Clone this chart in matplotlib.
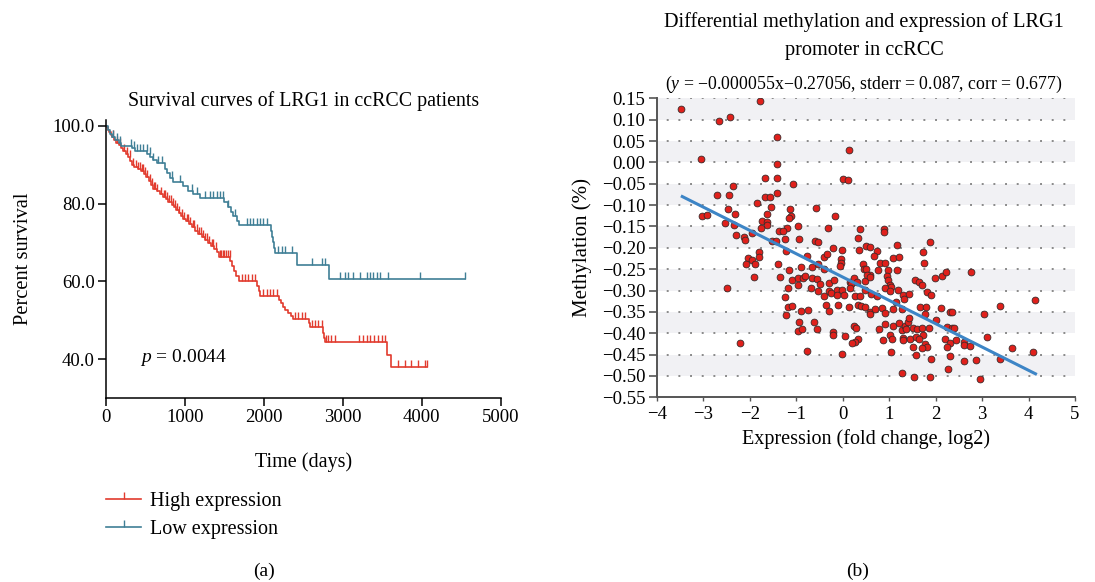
import numpy as np
import matplotlib
matplotlib.use("Agg")
from matplotlib import pyplot as plt
from matplotlib.lines import Line2D

plt.rcParams['font.family'] = ['Liberation Serif', 'DejaVu Serif']
plt.rcParams['mathtext.fontset'] = 'custom'
plt.rcParams['mathtext.rm'] = 'Liberation Serif'
plt.rcParams['mathtext.it'] = 'Liberation Serif:italic'

# ---- survival data (a) ----
high_t = [0, 10, 25, 40, 60, 80, 100, 130, 160, 190, 220, 250, 280, 310, 330, 360, 400, 440, 480,
          510, 540, 570, 600, 640, 680, 720, 760, 790, 830, 860, 890, 920, 950, 980, 1010, 1050,
          1090, 1130, 1170, 1210, 1250, 1290, 1330, 1370, 1400, 1430, 1575, 1600, 1625, 1650, 1680,
          1915, 1935, 1955, 2190, 2215, 2240, 2265, 2300, 2340, 2375, 2570, 2585, 2750, 2765, 2778,
          3556, 3612, 4072]
high_s = [100, 99.6, 99.0, 98.4, 97.7, 97.0, 96.4, 95.7, 95.0, 94.3, 93.6, 92.8, 92.1, 91.0, 90.0,
          89.4, 88.8, 88.3, 87.6, 86.8, 85.8, 84.9, 83.8, 83.2, 82.5, 81.8, 81.1, 80.4, 79.7, 79.0,
          78.3, 77.6, 76.9, 76.1, 75.5, 74.7, 73.9, 73.0, 72.2, 71.4, 70.6, 69.9, 69.1, 68.3, 67.5,
          66.3, 65.2, 64.0, 62.6, 61.3, 60.2, 58.8, 57.5, 56.2, 55.3, 54.4, 53.4, 52.6, 51.8, 51.0,
          50.4, 49.2, 48.3, 46.8, 45.4, 44.3, 41.0, 37.9, 37.9]
high_cens = [95, 140, 180, 230, 270, 300, 340, 380, 410, 430, 455, 470, 500, 520, 555, 580, 610,
             625, 650, 700, 730, 745, 770, 800, 820, 850, 875, 900, 930, 960, 990, 1020, 1040, 1070,
             1100, 1120, 1150, 1180, 1200, 1230, 1260, 1280, 1310, 1340, 1360, 1390, 1440, 1460,
             1480, 1500, 1520, 1545, 1565, 1718, 1760, 1803, 1845, 1887, 1993, 2035, 2078, 2120,
             2162, 2394, 2436, 2479, 2521, 2606, 2648, 2690, 2732, 2790, 2810, 2850, 2900, 3200,
             3250, 3300, 3350, 3400, 3450, 3500, 3535, 3700, 3790, 3860, 3950, 4040, 4072]

low_t = [0, 20, 50, 80, 120, 160, 190, 330, 370, 520, 560, 600, 650, 747, 768, 811, 853, 980, 1043,
         1098, 1191, 1495, 1550, 1584, 1613, 1655, 1689, 2086, 2099, 2111, 2128, 2145, 2416, 2829,
         4548]
low_s = [100, 99.0, 98.0, 97.2, 96.4, 95.6, 94.9, 94.2, 93.6, 92.8, 92.0, 91.3, 90.5, 89.0, 87.9,
         86.7, 85.6, 84.4, 83.3, 82.4, 81.5, 80.3, 79.1, 77.9, 76.8, 75.6, 74.5, 73.0, 71.5, 70.0,
         68.5, 67.2, 64.1, 60.6, 60.6]
low_cens = [93, 135, 177, 313, 355, 389, 431, 473, 515, 557, 600, 663, 705, 832, 938, 1085, 1149,
            1254, 1318, 1360, 1402, 1444, 1487, 1550, 1634, 1782, 1824, 1867, 1909, 1951, 1993,
            2035, 2183, 2226, 2268, 2352, 2606, 2732, 2774, 2965, 3028, 3070, 3133, 3218, 3302,
            3345, 3387, 3429, 3471, 3577, 3978, 4548]

# ---- methylation vs expression (b) ----
meth_x = [-3.48, -2.67, -2.43, -1.77, -1.42, -3.05, -1.42, 0.14, -1.68, -1.42, 0.00, 0.11, -1.06,
          -2.35, -2.71, -2.44, -1.42, -1.67, -1.57, -1.85, -1.55, -1.14, -0.58, -2.46, -3.02, -2.92,
          -2.32, -1.63, -1.12, -0.17, -1.16, -1.74, -1.62, -2.54, -1.62, -2.34, -0.96, -1.76, -0.31,
          0.37, 0.88, 0.88, -1.19, -1.37, -1.28, -2.29, -2.12, -1.96, -2.11, -0.94, -1.53, -1.43,
          -1.24, -0.59, -0.52, 0.33, 1.87, 0.50, 0.60, 1.16, -1.80, -1.80, -1.22, -0.21, -0.01,
          0.35, 0.75, 1.72, -0.76, -0.39, -0.33, 0.68, 1.08, 1.22, -2.03, -1.96, -2.07, -1.89,
          -1.38, -0.04, -0.04, -0.06, -0.52, 0.44, 0.81, 0.92, 1.75, 2.14, 2.23, 2.76, -1.91,
          -1.35, -1.15, -0.89, -0.65, -0.40, 0.46, 0.50, 0.58, 0.77, 0.97, 1.16, -1.08, -0.95,
          -0.85, -0.81, -0.66, -0.55, -0.30, -0.18, -0.97, -0.49, -1.18, -0.68, -0.54, -0.30,
          -0.11, -0.01, 0.16, 0.19, 0.25, 0.31, 0.48, 0.53, 0.60, 0.96, 0.98, 1.02, 1.05, 1.55,
          1.64, 1.70, 1.98, -2.49, -1.24, -0.40, -0.26, -0.11, 0.03, 0.15, 0.27, 0.38, 0.49, 0.62,
          0.73, 0.92, 1.01, 1.20, 1.31, 1.42, 1.81, 1.91, 1.33, 1.15, -1.18, -1.08, -1.22, -0.90,
          -0.74, -0.36, -0.29, -0.10, 0.14, 0.34, 0.40, 0.49, 0.58, 0.59, 0.70, 0.85, 0.92, 1.08,
          1.28, 1.67, 1.79, 1.77, 2.11, 2.30, 2.35, 3.04, 3.39, 4.14, -0.93, -0.61, -0.55, -0.97,
          -0.21, -0.21, 0.05, 0.25, 0.28, 0.33, 0.27, 0.21, 0.78, 0.92, 0.86, 1.03, 1.07, 1.09,
          1.22, 1.27, 1.31, 1.34, 1.41, 1.43, 1.37, 1.45, 1.52, 1.61, 1.71, 1.74, 1.58, 1.65, 1.85,
          2.01, 2.24, 2.35, 2.40, 2.20, 2.30, 2.45, 2.61, 2.62, 2.74, 3.11, 1.29, 1.78, 1.81, 1.52,
          1.70, 2.24, -0.77, -0.01, 1.05, 1.57, 1.90, 2.32, 2.62, 2.88, 3.38, 3.65, 4.10, 1.28,
          1.54, 1.89, 2.27, 2.95, -2.21, -0.88]
meth_y = [0.124, 0.096, 0.107, 0.143, 0.060, 0.008, -0.003, 0.030, -0.037, -0.037, -0.038, -0.041,
          -0.051, -0.055, -0.076, -0.076, -0.072, -0.082, -0.082, -0.096, -0.104, -0.109, -0.106,
          -0.109, -0.126, -0.124, -0.121, -0.121, -0.125, -0.126, -0.130, -0.138, -0.140, -0.141,
          -0.146, -0.146, -0.150, -0.154, -0.154, -0.157, -0.157, -0.163, -0.154, -0.160, -0.160,
          -0.171, -0.175, -0.165, -0.182, -0.179, -0.183, -0.184, -0.179, -0.183, -0.187, -0.176,
          -0.186, -0.196, -0.198, -0.193, -0.210, -0.221, -0.207, -0.201, -0.204, -0.204, -0.208,
          -0.210, -0.219, -0.221, -0.215, -0.219, -0.223, -0.221, -0.225, -0.229, -0.238, -0.239,
          -0.238, -0.227, -0.236, -0.242, -0.238, -0.238, -0.236, -0.235, -0.235, -0.265, -0.257,
          -0.257, -0.268, -0.268, -0.253, -0.246, -0.245, -0.250, -0.250, -0.250, -0.264, -0.253,
          -0.252, -0.252, -0.275, -0.271, -0.271, -0.265, -0.271, -0.274, -0.282, -0.275, -0.287,
          -0.284, -0.293, -0.295, -0.300, -0.301, -0.299, -0.298, -0.279, -0.285, -0.270, -0.279,
          -0.277, -0.264, -0.269, -0.266, -0.275, -0.288, -0.291, -0.275, -0.281, -0.288, -0.271,
          -0.295, -0.316, -0.314, -0.306, -0.310, -0.311, -0.293, -0.313, -0.312, -0.299, -0.309,
          -0.314, -0.294, -0.300, -0.299, -0.310, -0.308, -0.303, -0.311, -0.321, -0.326, -0.338,
          -0.336, -0.358, -0.348, -0.346, -0.335, -0.347, -0.335, -0.338, -0.334, -0.336, -0.339,
          -0.351, -0.356, -0.344, -0.342, -0.353, -0.344, -0.344, -0.339, -0.338, -0.356, -0.342,
          -0.351, -0.351, -0.354, -0.337, -0.322, -0.374, -0.374, -0.391, -0.394, -0.398, -0.404,
          -0.406, -0.382, -0.388, -0.413, -0.420, -0.422, -0.389, -0.379, -0.416, -0.404, -0.413,
          -0.383, -0.375, -0.393, -0.411, -0.384, -0.374, -0.364, -0.389, -0.413, -0.388, -0.389,
          -0.388, -0.404, -0.408, -0.414, -0.387, -0.369, -0.385, -0.387, -0.387, -0.413, -0.423,
          -0.416, -0.420, -0.427, -0.430, -0.410, -0.416, -0.425, -0.433, -0.433, -0.434, -0.433,
          -0.442, -0.448, -0.445, -0.452, -0.460, -0.454, -0.466, -0.462, -0.460, -0.435, -0.444,
          -0.493, -0.502, -0.502, -0.483, -0.506, -0.424, -0.390]
fit_x = [-3.45, 4.15]
fit_y = [-0.080, -0.495]
meth_ticks = [0.15, 0.10, 0.05, 0.00, -0.05, -0.10, -0.15, -0.20, -0.25, -0.30, -0.35, -0.40,
              -0.45, -0.50, -0.55]

RED = "#e23b2e"
TEAL = "#3f7f96"
W, H = 1095, 582


def fx(px):
    return px / W


def fy(py):
    return 1 - py / H


def level_at(times, levels, t):
    idx = np.searchsorted(times, t, side="right") - 1
    return np.asarray(levels)[idx]


fig = plt.figure(figsize=(10.95, 5.82), dpi=100)

# ---------------- (a) survival ----------------
ax1 = fig.add_axes([fx(106), fy(398), fx(500.7) - fx(106), fy(120) - fy(398)])
for t, s, c, col in [(high_t, high_s, high_cens, RED), (low_t, low_s, low_cens, TEAL)]:
    ax1.step(t, s, where="post", color=col, lw=1.2)
    ax1.plot(c, level_at(t, s, c), linestyle="none", marker=2, markersize=5,
             markeredgewidth=1.0, color=col)
ax1.set_xlim(0, 5000)
ax1.set_ylim(30, 101.5)
ax1.set_xticks([0, 1000, 2000, 3000, 4000, 5000])
ax1.set_yticks([40, 60, 80, 100])
ax1.set_yticklabels(["40.0", "60.0", "80.0", "100.0"])
for side in ["top", "right"]:
    ax1.spines[side].set_visible(False)
for side in ["left", "bottom"]:
    ax1.spines[side].set_linewidth(1.1)
ax1.tick_params(direction="out", length=6, width=1.1, labelsize=13.5, pad=2)
ax1.set_xlabel("Time (days)", fontsize=14.5, labelpad=19)
ax1.set_ylabel("Percent survival", fontsize=14.8, labelpad=14)
ax1.set_title("Survival curves of LRG1 in ccRCC patients", fontsize=14.3, pad=10)
ax1.text(430, 40.5, "$p$ = 0.0044", fontsize=14, va="center", ha="left")

handles = [Line2D([0], [0], color=RED, lw=1.2, marker=2, markersize=5, markeredgewidth=1.0),
           Line2D([0], [0], color=TEAL, lw=1.2, marker=2, markersize=5, markeredgewidth=1.0)]
fig.legend(handles, ["High expression", "Low expression"], loc="upper left",
           bbox_to_anchor=(fx(106), fy(492)), frameon=False, fontsize=14.5,
           borderpad=0, borderaxespad=0, handlelength=1.75, handletextpad=0.45,
           labelspacing=0.42)
fig.text(fx(264), fy(571), "(a)", fontsize=14, ha="center", va="center")

# ---------------- (b) scatter ----------------
ax2 = fig.add_axes([fx(656.7), fy(397.3), fx(1075) - fx(656.7), fy(98.3) - fy(397.3)])
for k in range(0, 14, 2):
    ax2.axhspan(meth_ticks[k + 1], meth_ticks[k], color="#f1f1f4", lw=0, zorder=0)
for v in meth_ticks[:-1]:
    ax2.axhline(v, color="#8a8a8a", lw=1.4, linestyle=(1, (1, 5)), zorder=1)
ax2.scatter(meth_x, meth_y, s=24, c="#e0201b", edgecolors="#3a2a2a", linewidths=0.6, zorder=3)
ax2.plot(fit_x, fit_y, color="#3d85c6", lw=2.2, zorder=4)
ax2.set_xlim(-4, 5)
ax2.set_ylim(-0.55, 0.15)
ax2.set_xticks(range(-4, 6))
ax2.set_yticks(meth_ticks)
ax2.set_yticklabels([f"{v:.2f}".replace("-", "\u2212") for v in meth_ticks])
for side in ["top", "right"]:
    ax2.spines[side].set_visible(False)
for side in ["left", "bottom"]:
    ax2.spines[side].set_linewidth(1.4)
    ax2.spines[side].set_color("#555555")
ax2.tick_params(axis="y", direction="out", length=6, width=1.2, color="#555555",
                labelsize=13.5, pad=2)
ax2.tick_params(axis="x", direction="out", length=3, width=1.0, color="#555555",
                labelsize=13.5, pad=3)
ax2.set_xlabel("Expression (fold change, log2)", fontsize=14.5, labelpad=5)
ax2.set_ylabel("Methylation (%)", fontsize=15, labelpad=7)

fig.text(fx(864), fy(22), "Differential methylation and expression of LRG1", fontsize=14.6,
         ha="center", va="center")
fig.text(fx(864), fy(50), "promoter in ccRCC", fontsize=14.6, ha="center", va="center")
fig.text(fx(864), fy(84), "($y$ = \u22120.000055x\u22120.27056, stderr = 0.087, corr = 0.677)",
         fontsize=12.8, ha="center", va="center")
fig.text(fx(858), fy(571), "(b)", fontsize=14, ha="center", va="center")

fig.savefig("out.png", dpi=100)
